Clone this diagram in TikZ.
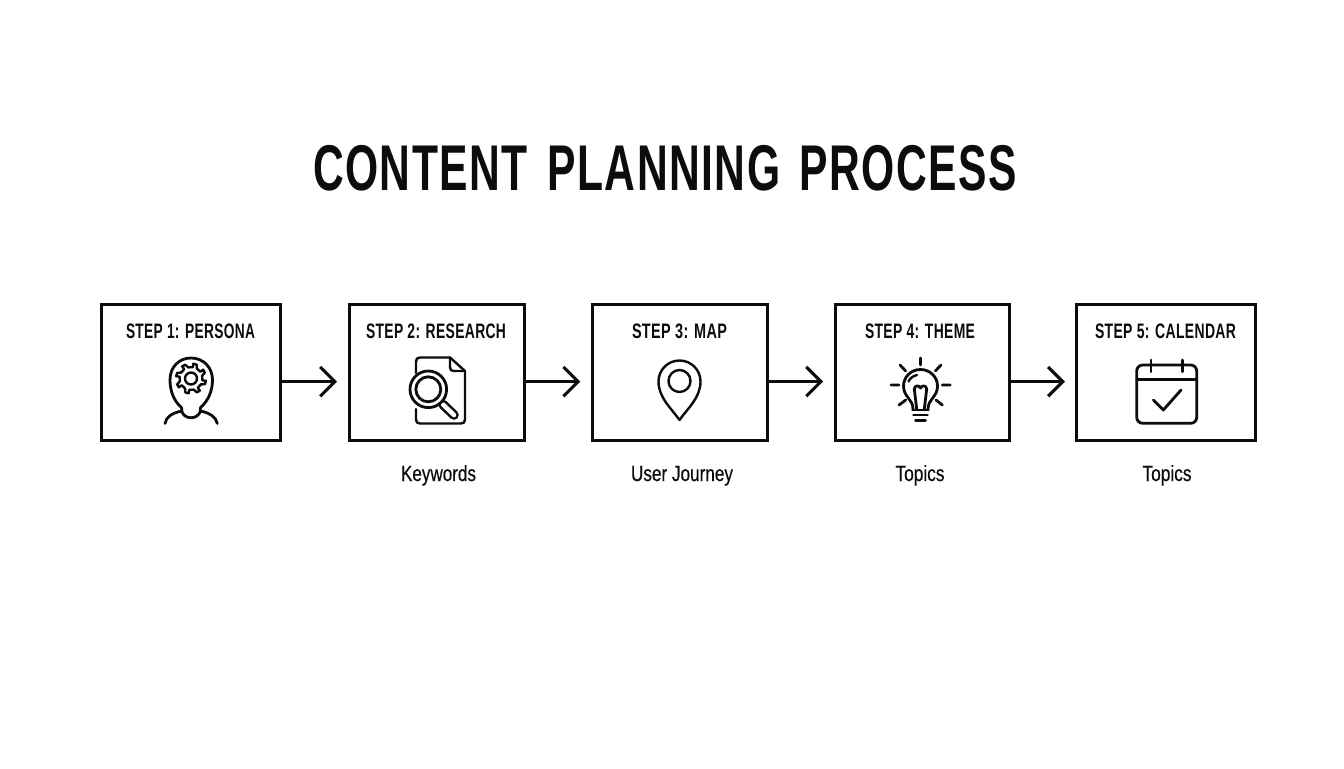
\documentclass[tikz,border=0pt]{standalone}
\usepackage{fontspec}
\setmainfont{Liberation Sans}
\usetikzlibrary{arrows.meta}
\definecolor{ink}{HTML}{0C0C0C}
\newcommand{\fitw}[2]{\resizebox{#1pt}{\height}{#2}}
\tikzset{
  x=0.75pt,y=-0.75pt,
  stepbox/.style={draw=ink,line width=2.25pt,minimum width=#1*0.75pt,minimum height=102pt,inner sep=0pt,fill=white},
  steptitle/.style={anchor=base,inner sep=0pt,text=ink,font=\bfseries\fontsize{15.7pt}{18pt}\selectfont\addfontfeature{LetterSpace=2.5}},
  caption/.style={anchor=base,inner sep=0pt,text=ink,font=\fontsize{16.5pt}{18pt}\selectfont\addfontfeature{FakeBold=0.5}},
  conn/.style={draw=ink,line width=2.3pt,shorten >=7.8pt,-{Straight Barb[length=11pt,width=22pt,line width=2.3pt]}},
  icon/.style={draw=ink,line width=1.8pt,line cap=round,line join=round},
  iconb/.style={draw=ink,line width=2.1pt,line cap=round,line join=round}
}
\begin{document}
\begin{tikzpicture}
\useasboundingbox (0,0) rectangle (1344,768);
\fill[white] (0,0) rectangle (1344,768);
\node[anchor=base,inner sep=0pt,text=ink,font=\bfseries\fontsize{48.5pt}{56pt}\selectfont\addfontfeature{LetterSpace=3.5}] (title) at (665,190) {\fitw{528}{CONTENT \kern7pt PLANNING \kern7pt PROCESS}};
% boxes
\node[stepbox=179] (b1) at (191,372) {};
\node[stepbox=175] (b2) at (436.5,372) {};
\node[stepbox=175] (b3) at (679.7,372) {};
\node[stepbox=174] (b4) at (922,372) {};
\node[stepbox=179] (b5) at (1166.3,372) {};
% connectors
\draw[conn] ([yshift=-7.2pt]b1.east) -- ([yshift=-7.2pt]b2.west);
\draw[conn] ([yshift=-7.2pt]b2.east) -- ([yshift=-7.2pt]b3.west);
\draw[conn] ([yshift=-7.2pt]b3.east) -- ([yshift=-7.2pt]b4.west);
\draw[conn] ([yshift=-7.2pt]b4.east) -- ([yshift=-7.2pt]b5.west);
% step titles
\node[steptitle] (t1) at (190.5,338) {\fitw{96.75}{STEP 1: PERSONA}};
\node[steptitle] (t2) at (436,338) {\fitw{105}{STEP 2: RESEARCH}};
\node[steptitle] (t3) at (679.5,338) {\fitw{71.25}{STEP 3: MAP}};
\node[steptitle] (t4) at (920,338) {\fitw{82.5}{STEP 4: THEME}};
\node[steptitle] (t5) at (1165.5,338) {\fitw{105.75}{STEP 5: CALENDAR}};
% captions
\node[caption] (c2) at (438.5,481) {\fitw{56.25}{Keywords}};
\node[caption] (c3) at (682,481) {\fitw{76.5}{User Journey}};
\node[caption] (c4) at (920,481) {\fitw{36.75}{Topics}};
\node[caption] (c5) at (1167,481) {\fitw{36.75}{Topics}};
% persona icon
\draw[iconb] (165,423.5) .. controls (166,417) and (172,413) .. (181.7,411) .. controls (184,420) and (198,420) .. (200.5,411) .. controls (210,413) and (216,417) .. (217.3,423.5);
\draw[iconb] (181.7,411) .. controls (182,409) and (182,408) .. (181,407) .. controls (174,401) and (170,391) .. (170,380) .. controls (170,367) and (179,358) .. (191,358) .. controls (203,358) and (212.5,367) .. (212.5,380) .. controls (212.5,391) and (208,401) .. (201,407) .. controls (200,408) and (200,409) .. (200.5,411);
\begin{scope}[shift={(191,378.5)}]
\draw[icon] (0:11.5) -- (9:11.5)
  \foreach \a in {0,45,...,315} { -- (\a+9:15) -- (\a+22:15) -- (\a+31:11.5) -- (\a+54:11.5) };
\draw[icon] (0,0) circle[radius=6];
\end{scope}
% research icon
\draw[icon] (416,373) -- (416,362) .. controls (416,359) and (417,357.5) .. (420,357.5) -- (450,357.5) -- (465,371) -- (465,419) .. controls (465,422) and (464,423.5) .. (461,423.5) -- (420,423.5) .. controls (417,423.5) and (416,422) .. (416,419) -- (416,409);
\draw[icon] (450,357.5) -- (450,367) .. controls (450,370) and (451,371) .. (454,371) -- (465,371);
\draw[iconb,line width=7.2pt] (443,404.5) -- (454,415);
\draw[white,line width=3.4pt,line cap=round] (443,404.5) -- (454,415);
\draw[iconb,fill=white] (428.3,389.3) circle[radius=18.3];
\draw[iconb] (428.3,389.3) circle[radius=12.5];
% map icon
\draw[icon] (679.5,420) .. controls (672,409) and (658.5,398) .. (658.5,381.5) .. controls (658.5,369.9) and (667.9,360.5) .. (679.5,360.5) .. controls (691.1,360.5) and (700.5,369.9) .. (700.5,381.5) .. controls (700.5,398) and (687,409) .. (679.5,420);
\draw[icon] (679.5,381) circle[radius=11];
% bulb icon
\draw[iconb] (913,409) .. controls (913,399) and (903.5,397) .. (903.5,386) .. controls (903.5,377) and (911,369.5) .. (920.5,369.5) .. controls (930,369.5) and (937.5,377) .. (937.5,386) .. controls (937.5,397) and (928,399) .. (928,409);
\draw[iconb] (916.7,409) -- (914.3,389) .. controls (915,385) and (919,385) .. (920.5,388) .. controls (922,385) and (926,385) .. (926.7,389) -- (924.3,409);
\draw[icon] (908.5,381.5) .. controls (910,378) and (913,376) .. (917,375);
\draw[iconb] (912.5,410) -- (928.5,410) (913.5,415) -- (927.5,415) (915.5,420.7) -- (925.5,420.7);
\draw[iconb] (920.5,358) -- (920.5,365) (900,365) -- (905.7,371) (941,365) -- (935.3,371) (891,385) -- (899,385) (942.3,385) -- (950.3,385) (899,405) -- (905.7,400) (942.3,405) -- (936,400);
% calendar icon
\draw[iconb,rounded corners=4.5pt] (1136.7,365) rectangle (1196.7,423.3);
\draw[iconb] (1136.7,379.3) -- (1196.7,379.3);
\draw[iconb] (1151,360) -- (1151,371.7) (1182.3,360) -- (1182.3,371.7);
\draw[iconb] (1153.3,400) -- (1163.3,410) -- (1181,390);
\end{tikzpicture}
\end{document}
